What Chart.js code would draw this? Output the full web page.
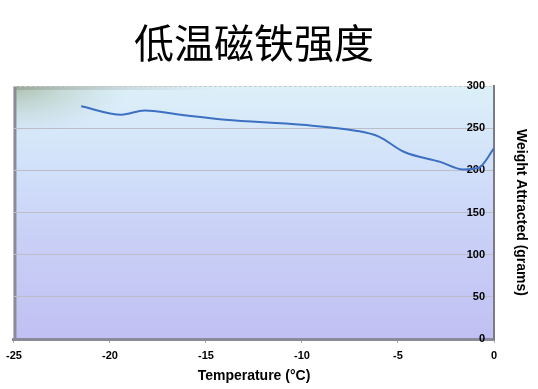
<!DOCTYPE html>
<html>
<head>
<meta charset="utf-8">
<script src="https://cdn.jsdelivr.net/npm/chart.js@4/dist/chart.umd.min.js"></script>
<style>
  html, body { margin: 0; padding: 0; background: #fff; }
  #wrap { width: 538px; height: 389px; }
</style>
</head>
<body>
<div id="wrap"><canvas id="grafico"></canvas></div>
<script>
// temperatura (°C) y peso atraído (g)
const temperaturas = [-21.5, -19.4, -18.2, -16, -14, -10, -7.2, -6, -4.7, -2.8, -1.6, -0.8, 0];
const pesos = [276, 266, 271, 265, 260, 254, 247, 240, 222, 210, 201, 203, 226];
const ticksX = [-25, -20, -15, -10, -5, 0];
const ticksY = [0, 50, 100, 150, 200, 250, 300];
const titulo = "低温磁铁强度";

const puntos = temperaturas.map((t, i) => ({ x: t, y: pesos[i] }));

// fondo degradado del área del gráfico, estilo Excel
const fondo = {
  id: "fondo",
  beforeDraw(chart) {
    const { ctx, chartArea: a } = chart;
    ctx.save();
    const g = ctx.createLinearGradient(0, a.top, 0, a.bottom);
    g.addColorStop(0, "#dcf0f8");
    g.addColorStop(0.3, "#d2e2fa");
    g.addColorStop(0.6, "#c9d0f6");
    g.addColorStop(1, "#c0c0f2");
    ctx.fillStyle = g;
    ctx.fillRect(a.left, a.top, a.right - a.left, a.bottom - a.top);
    // esquina superior izquierda verdosa
    ctx.save();
    ctx.beginPath();
    ctx.rect(a.left, a.top, a.right - a.left, a.bottom - a.top);
    ctx.clip();
    ctx.translate(a.left, a.top);
    ctx.scale(2.4, 1);
    const r = ctx.createRadialGradient(0, 0, 0, 0, 0, 48);
    r.addColorStop(0, "rgba(150,170,140,0.7)");
    r.addColorStop(0.5, "rgba(170,190,170,0.35)");
    r.addColorStop(1, "rgba(180,200,200,0)");
    ctx.fillStyle = r;
    ctx.fillRect(0, 0, 60, 55);
    ctx.restore();
    // franja gris superior
    const f = ctx.createLinearGradient(a.left, 0, a.left + 200, 0);
    f.addColorStop(0, "rgba(140,150,140,0.5)");
    f.addColorStop(1, "rgba(140,150,140,0)");
    ctx.fillStyle = f;
    ctx.fillRect(a.left, a.top, 200, 4);
    // bordes
    ctx.strokeStyle = "#8a8a9a";
    ctx.lineWidth = 3;
    ctx.beginPath();
    ctx.moveTo(a.left + 1, a.top);
    ctx.lineTo(a.left + 1, a.bottom);
    ctx.stroke();
    ctx.strokeStyle = "#c8c8c8";
    ctx.lineWidth = 1;
    ctx.setLineDash([3, 2]);
    ctx.beginPath();
    ctx.moveTo(a.left, a.top + 0.5);
    ctx.lineTo(a.right, a.top + 0.5);
    ctx.stroke();
    ctx.restore();
  },
  // título centrado sobre el área del gráfico
  afterDraw(chart) {
    const { ctx, chartArea: a } = chart;
    ctx.save();
    ctx.fillStyle = "#000";
    ctx.font = "40px 'Noto Sans CJK SC'";
    ctx.textAlign = "center";
    ctx.textBaseline = "middle";
    ctx.fillText(titulo, (a.left + a.right) / 2, 43);
    ctx.restore();
  },
};

const ctx = document.getElementById("grafico").getContext("2d");
new Chart(ctx, {
  type: "scatter",
  data: {
    datasets: [
      {
        label: "Peso",
        data: puntos,
        showLine: true,
        borderColor: "#3d6fc2",
        borderWidth: 2,
        pointRadius: 0,
        tension: 0.4,
        cubicInterpolationMode: "monotone",
      },
    ],
  },
  options: {
    responsive: true,
    maintainAspectRatio: false,
    animation: false,
    layout: { padding: { left: 13, right: 0, top: 86, bottom: 0 } },
    plugins: {
      legend: { display: false },
      tooltip: { enabled: false },
      title: { display: false },
    },
    scales: {
      x: {
        type: "linear",
        min: -25,
        max: 0,
        afterBuildTicks: (s) => { s.ticks = ticksX.map((v) => ({ value: v })); },
        afterFit: (s) => { s.height = 50; },
        ticks: {
          color: "#000",
          font: { family: "Arial, 'Liberation Sans'", size: 11, weight: "bold" },
          padding: 6,
        },
        grid: { drawOnChartArea: false, drawTicks: true, tickLength: 4, color: "#b0b0b0" },
        border: { color: "#8a8a9a", width: 3 },
        title: {
          display: true,
          text: "Temperature (°C)",
          color: "#000",
          font: { family: "Arial, 'Liberation Sans'", size: 14, weight: "bold" },
          padding: { top: 4 },
        },
      },
      y: {
        position: "right",
        min: 0,
        max: 300,
        afterBuildTicks: (s) => { s.ticks = ticksY.map((v) => ({ value: v })); },
        afterFit: (s) => { s.width = 44; },
        ticks: {
          mirror: true,
          color: "#000",
          font: { family: "Arial, 'Liberation Sans'", size: 11, weight: "bold" },
          padding: -9,
        },
        grid: {
          color: (c) => (c.tick.value === 300 || c.tick.value === 0 ? "rgba(0,0,0,0)" : "#bdbdc8"),
          drawTicks: false,
        },
        border: { color: "#7a7a88", width: 2 },
        title: {
          display: true,
          text: "Weight Attracted (grams)",
          color: "#000",
          font: { family: "Arial, 'Liberation Sans'", size: 14, weight: "bold" },
          padding: { top: 9, bottom: 0 },
        },
      },
    },
  },
  plugins: [fondo],
});
</script>
</body>
</html>
